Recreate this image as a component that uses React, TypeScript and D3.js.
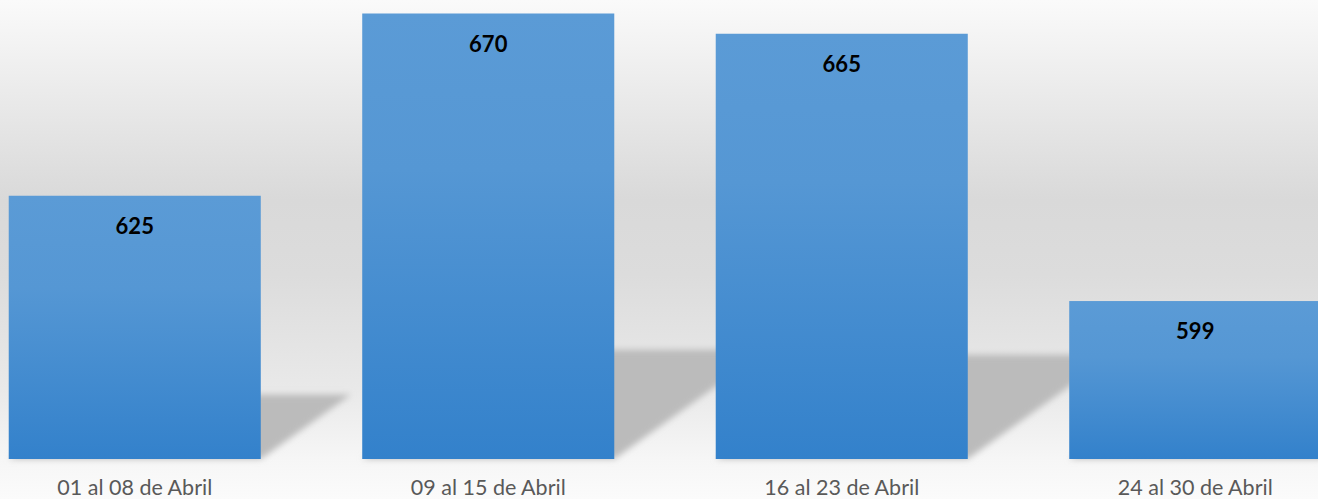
import React from "react";
import * as d3 from "d3";

const categories = ["01 al 08 de Abril", "09 al 15 de Abril", "16 al 23 de Abril", "24 al 30 de Abril"];
const values = [625, 670, 665, 599];
const yDomain = [560, 680];

const W = 1318;
const H = 499;
const FONT = "Lato, 'Open Sans', sans-serif";

export default function App() {
  const baseline = 459;
  const x = d3
    .scaleBand<string>()
    .domain(categories)
    .range([-42, 1372])
    .paddingInner(0.287)
    .paddingOuter(0.1435);
  const y = d3.scaleLinear().domain(yDomain).range([baseline, baseline - 120 * 4.05]);

  const data = categories.map((c, i) => ({ c, v: values[i] }));

  return (
    <svg
      width={W}
      height={H}
      style={{ position: "absolute", left: 0, top: 0, display: "block" }}
      fontFamily={FONT}
    >
      <defs>
        <linearGradient id="bg" x1="0" y1="0" x2="0" y2="1">
          <stop offset="0" stopColor="#fafafa" />
          <stop offset="0.40" stopColor="#d9d9d9" />
          <stop offset="0.55" stopColor="#dcdcdc" />
          <stop offset="0.78" stopColor="#e9e9e9" />
          <stop offset="0.92" stopColor="#f6f6f6" />
          <stop offset="1" stopColor="#fbfbfb" />
        </linearGradient>
        <linearGradient id="barGrad" x1="0" y1="0" x2="0" y2="1">
          <stop offset="0" stopColor="#5b9bd6" />
          <stop offset="0.35" stopColor="#5597d4" />
          <stop offset="1" stopColor="#3381cb" />
        </linearGradient>
        <filter id="blur" x="-20%" y="-20%" width="140%" height="140%">
          <feGaussianBlur stdDeviation="3" />
        </filter>
      </defs>
      <rect x={0} y={0} width={W} height={H} fill="url(#bg)" />
      <g filter="url(#blur)">
        {data.map((d) => {
          const x0 = x(d.c)!;
          const x1 = x0 + x.bandwidth();
          const h = baseline - y(d.v);
          const sh = 0.245 * h;
          const sk = 1.4 * sh;
          const pts = [
            [x0, baseline],
            [x1, baseline],
            [x1 + sk, baseline - sh],
            [x0 + sk, baseline - sh],
          ];
          return <polygon key={"s" + d.c} points={pts.map((p) => p.join(",")).join(" ")} fill="#bbbbbb" />;
        })}
      </g>
      {data.map((d) => (
        <rect
          key={"b" + d.c}
          x={x(d.c)}
          y={y(d.v)}
          width={x.bandwidth()}
          height={baseline - y(d.v)}
          fill="url(#barGrad)"
        />
      ))}
      {data.map((d) => (
        <text
          key={"v" + d.c}
          x={x(d.c)! + x.bandwidth() / 2}
          y={y(d.v) + 38}
          textAnchor="middle"
          fontWeight="bold"
          fontSize={22}
          fill="#000"
        >
          {d.v}
        </text>
      ))}
      {data.map((d) => (
        <text
          key={"c" + d.c}
          x={x(d.c)! + x.bandwidth() / 2}
          y={495}
          textAnchor="middle"
          fontSize={21.5}
          fill="#595959"
        >
          {d.c}
        </text>
      ))}
    </svg>
  );
}
